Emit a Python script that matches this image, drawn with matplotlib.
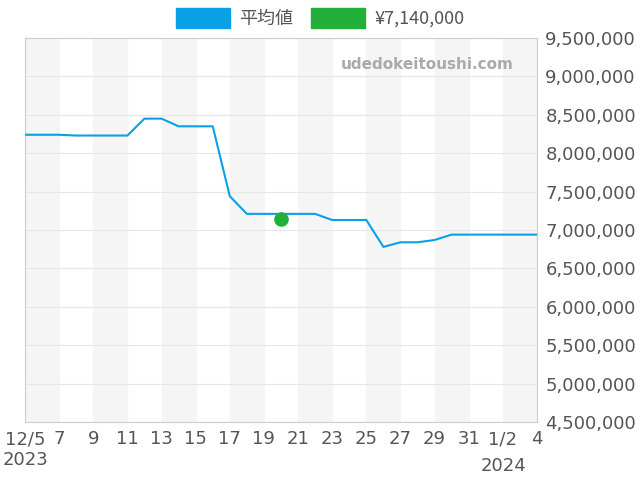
import numpy as np
import pandas as pd
import matplotlib.pyplot as plt
import matplotlib.ticker as mticker
from matplotlib.patches import Patch

dates = pd.date_range("2023-12-05", "2024-01-04", freq="D")
avg = [8240000, 8240000, 8240000, 8230000, 8230000, 8230000, 8230000,
       8450000, 8450000, 8350000, 8350000, 8350000, 7440000, 7210000,
       7210000, 7210000, 7210000, 7210000, 7130000, 7130000, 7130000,
       6780000, 6840000, 6840000, 6870000, 6940000, 6940000, 6940000,
       6940000, 6940000, 6940000]
point_date = pd.Timestamp("2023-12-20")
point_val = 7140000

x = np.arange(len(dates))
px = (point_date - dates[0]).days

fig = plt.figure(figsize=(6.4, 4.8), dpi=100)
ax = fig.add_axes([25/640, 1-422/480, 512/640, 384/480])

for s in range(0, 30, 4):
    ax.axvspan(s, s + 2, color="#f5f5f5", zorder=0)

ax.plot(x, avg, color="#0aa0e6", lw=1.5, zorder=3)
ax.scatter([px], [point_val], s=90, color="#22b03a", zorder=4)

ax.set_xlim(0, 30)
ax.set_ylim(4500000, 9500000)
ax.yaxis.tick_right()
ax.yaxis.set_major_locator(mticker.MultipleLocator(500000))
ax.yaxis.set_major_formatter(mticker.FuncFormatter(lambda v, p: f"{int(v):,}"))
ax.grid(axis="y", color="#e6e6e6", lw=0.8)
ticks = list(range(0, 31, 2))
labels = []
for t in ticks:
    d = dates[t]
    if t == 0:
        labels.append("12/5\n2023")
    elif d.day == 2 and d.month == 1:
        labels.append("1/2")
    else:
        labels.append(str(d.day))
ax.set_xticks(ticks)
ax.set_xticklabels(labels)
ax.tick_params(labelsize=13, colors="#555555", length=0, pad=6)
fig.text(503/640, 1-466/480, "2024", fontsize=13, color="#555555", ha="center", va="center")
for sp in ax.spines.values():
    sp.set_color("#cccccc")

ax.text(0.955, 0.93, "udedokeitoushi.com", transform=ax.transAxes, ha="right",
        va="center", fontsize=11, color="#aaaaaa", fontweight="bold")

handles = [Patch(color="#0aa0e6", label="平均値"), Patch(color="#22b03a", label="¥7,140,000")]
fig.legend(handles=handles, loc="center", bbox_to_anchor=(0.5, 1-18/480), ncol=2,
           frameon=False, handlelength=3, handleheight=1.3, handletextpad=0.5,
           columnspacing=1.0,
           prop={"family": ["Noto Sans CJK JP", "DejaVu Sans"], "size": 13})
for t in fig.legends[0].get_texts():
    t.set_color("#555555")

fig.savefig("out.png", dpi=100)
